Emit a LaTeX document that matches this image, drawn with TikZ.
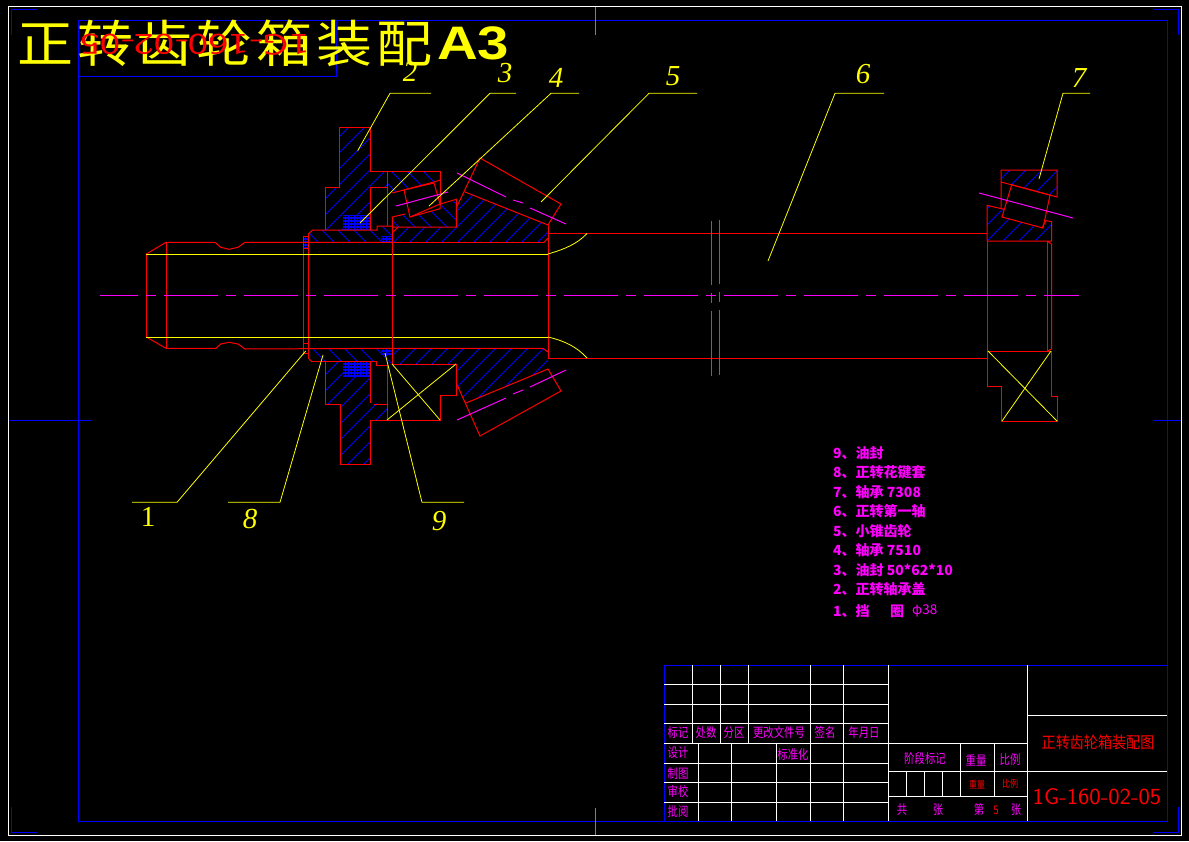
\documentclass[tikz,border=0pt]{standalone}
\usepackage{fontspec}
\setmainfont{Liberation Serif}
\newfontfamily\cjk{Noto Sans CJK SC}
\newfontfamily\cjktitle[LetterSpace=7]{Noto Sans CJK SC}
\newfontfamily\lsans{Liberation Sans}
\newfontfamily\lserif{Liberation Serif}
\definecolor{rd}{RGB}{255,0,0}
\definecolor{bl}{RGB}{0,0,255}
\definecolor{yl}{RGB}{255,255,0}
\definecolor{mg}{RGB}{255,0,255}
\tikzset{
  part/.style={draw=rd,line width=1pt},
  hatchline/.style={draw=bl,line width=1pt},
  leader/.style={draw=yl,line width=.8pt},
  cross/.style={draw=yl,line width=.8pt},
  axisline/.style={draw=mg,line width=1pt},
  frameblue/.style={draw=bl,line width=1pt},
  framewhite/.style={draw=white,line width=1pt},
  grid line/.style={draw=white,line width=.9pt},
  lab/.style={inner sep=0pt,text=mg,font=\cjk\fontsize{13}{13}\selectfont,xscale=.8},
  redlab/.style={inner sep=0pt,text=rd,font=\cjk\fontsize{10}{10}\selectfont,xscale=.8},
  listlab/.style={inner sep=0pt,anchor=west,text=mg,font=\cjk\bfseries\fontsize{14}{14}\selectfont},
  callout/.style={inner sep=0pt,text=yl,font=\lserif\itshape\fontsize{29}{29}\selectfont},
}
\newcommand{\hatchfw}[1]{\begin{scope}\clip #1;\foreach \k in {300,316,...,1700}{\draw[hatchline] (\k,0)--({\k-800},800);}\end{scope}}
\newcommand{\hatchbk}[1]{\begin{scope}\clip #1;\foreach \k in {-500,-484,...,700}{\draw[hatchline] (\k,0)--({\k+800},800);}\end{scope}}
\newcommand{\seal}[4]{\fill[bl] (#1,#2) rectangle (#3,#4);
  \begin{scope}\clip (#1,#2) rectangle (#3,#4);
  \foreach \q in {0,3,...,18}{\draw[black,line width=1pt,dash pattern=on 1.5pt off 1.5pt] (#1,{#2+\q+1})--(#3,{#2+\q+1});}
  \end{scope}}
\begin{document}
\begin{tikzpicture}[x=1pt,y=-1pt]
\path[use as bounding box,fill=black] (0,0) rectangle (1189,841);

% sheet frames
\draw[framewhite] (8.5,6.5) rectangle (1181,835);
\draw[frameblue] (78.5,20.5) rectangle (1167,821.5);
\draw[frameblue] (78.5,20.5) rectangle (336.5,76.5);
\draw[frameblue] (37,9.5)--(11,9.5)--(11,35);
\draw[frameblue] (37,832)--(11,832)--(11,807);
\draw[frameblue] (1153,9.5)--(1178,9.5)--(1178,35);
\draw[frameblue] (1153,832)--(1178,832)--(1178,807);
\draw[frameblue] (8.5,420.5)--(92,420.5);
\draw[frameblue] (1153,420.5)--(1181,420.5);
\draw[draw=gray,line width=.8pt] (595.5,6.5)--(595.5,35);
\draw[draw=gray,line width=.8pt] (595.5,808)--(595.5,835);

% heading
\node[inner sep=0pt,anchor=west,text=yl,font=\cjktitle\fontsize{56}{56}\selectfont,yscale=.9] (heading) at (17,43) {正转齿轮箱装配};
\node[inner sep=0pt,anchor=west,text=yl,font=\lsans\bfseries\fontsize{47}{47}\selectfont,xscale=1.2] (headingsize) at (437,43) {A3};
\node[inner sep=0pt,text=rd,font=\sffamily\fontsize{30}{30}\selectfont,rotate=180,xscale=1.44] (flipped) at (194.5,45) {1G-160-02-05};

% hatching
\hatchfw{(339,127)--(370,127)--(370,171)--(387,171)--(387,187)--(370,187)--(370,230)--(325,230)--(325,187)--(339,187)--cycle}
\hatchbk{(387,171)--(440,171)--(440,180)--(434,182)--(392,193)--(387,195)--cycle}
\hatchbk{(392,217)--(405,214)--(410,217)--(440,208.7)--(440,204)--(456,199.3)--(456,227)--(392,227)--cycle}
\hatchbk{(312.7,230)--(377,230)--(377,226)--(392,226)--(392,242)--(308,242)--(308,234)--cycle}
\hatchfw{(392,227)--(456,227)--(456,207)--(465,192)--(548,225)--(548,238)--(544,242)--(392,242)--cycle}
\hatchbk{(308,348)--(392,348)--(392,364)--(376,365)--(376,361)--(311,361)--(308,358)--cycle}
\hatchfw{(325,361)--(370,361)--(370,403)--(387,404)--(387,420)--(370,420)--(370,464)--(340,464)--(340,404)--(325,404)--cycle}
\hatchfw{(392,348)--(543,348)--(548,352)--(548,369)--(466,403)--(456,383)--(456,364)--(392,364)--cycle}
\hatchfw{(1001,170)--(1057,170)--(1057,197)--(1001,182)--cycle}
\hatchfw{(987,205.3)--(1004,209.3)--(1001.7,216.7)--(1041.7,228.3)--(1046,220.7)--(1051.7,221.7)--(1051.7,240.7)--(987.3,240.7)--cycle}

% seals
\seal{343}{215}{370}{230}
\seal{343}{361}{370}{377}
\seal{381}{236}{392}{242}
\seal{381}{348}{392}{356}
\seal{303}{236}{308}{248}

% input shaft
\draw[part] (146.3,254)--(166,242.3)--(215,242.3)--(220.7,247.3)--(229,249.3)--(238,247.3)--(245,242.3)--(392,242.3);
\draw[part] (146.3,337)--(166,348.3)--(216,348.3)--(220.7,344)--(229,342.3)--(238,344)--(245,349)--(392,348.3);
\draw[part] (146.3,254)--(146.3,337);
\draw[part] (166,242.3)--(166,348.3);
\draw[part] (303.3,236)--(303.3,355);
\draw[part] (308.3,234)--(308.3,358);
\draw[part] (303.3,236)--(308.3,236);
\draw[part] (303.3,343)--(308.3,343);
\draw[part] (303.3,353)--(308.3,353);
\draw[part] (303.3,248)--(308.3,248);
\draw[leader,line width=1pt] (146.3,254.3)--(548,254.3);
\draw[leader,line width=1pt] (146.3,337.3)--(548,337.3);

% upper cap, sleeve and bearing
\draw[part] (325,230)--(325,187)--(339,187)--(339,127.3)--(370.3,127.3)--(370.3,171)--(440.3,171)--(440.3,204);
\draw[part] (308.3,234)--(312.7,230)--(377,230)--(377,226)--(392.3,226);
\draw[part] (387,171)--(387,226);
\draw[part] (370.3,230)--(370.3,187)--(387,187);
\draw[part] (392.3,226)--(392.3,364);
\draw[part] (392.3,233)--(398,227);
\draw[part] (392.3,193)--(434,182)--(440.3,180);
\draw[part] (404,190)--(434,183)--(440,204)--(410,217)--cycle;
\draw[part] (392.3,217)--(405,214);
\draw[part] (392.3,217)--(392.3,227)--(456.3,227)--(456.3,199.3)--(440,204)--(440,208.7)--(410,217);
\draw[part] (456.3,199.3)--(456.3,207);
\draw[axisline] (396,206)--(448,192);

% upper bevel gear
\draw[part] (456.7,207)--(480,158)--(561,204)--(548,225)--(465,192);
\draw[part] (548,225)--(548,358);
\draw[part] (544,242.3)--(548,238);
\draw[part] (392,242.3)--(544,242.3);
\draw[axisline] (457,173)--(506,197);
\draw[axisline] (513,200)--(523,203);
\draw[axisline] (530,208)--(566,224);

% lower cap, sleeve, bearing and gear
\draw[part] (311,361)--(376,361)--(376,365)--(387,365)--(387,420);
\draw[part] (325,361)--(325,404)--(340,404)--(340,464)--(370.3,464)--(370.3,420)--(440,420)--(440,395)--(456.3,395)--(456.3,364)--(392.3,364);
\draw[part] (370.3,361)--(370.3,403);
\draw[part] (374,404)--(387,404);
\draw[part] (308.3,358)--(311,361);
\draw[part] (392,348.3)--(543,348.3)--(548,352);
\draw[part] (456.3,383)--(456.3,395);
\draw[part] (456.3,383)--(480,436)--(561,391)--(548,369)--(466,403);
\draw[cross] (392,364)--(440,420);
\draw[cross] (456,364)--(387,420);
\draw[axisline] (457,420)--(506,398);
\draw[axisline] (513,394)--(523,390);
\draw[axisline] (530,387)--(566,370);

% long shaft
\draw[part,line width=.8pt] (548,233.3)--(987,233.3);
\draw[part,line width=1.2pt] (548,358.3)--(987,358.3);
\draw[leader] (548,254)..controls (565,249) and (577,244)..(587,233.5);
\draw[leader] (548,337)..controls (565,341) and (577,347)..(587,358);
\foreach \a/\b in {221/285,293/303,311/376}{\draw[axisline] (711.5,\a)--(711.5,\b);}
\foreach \a/\b in {220/283.7,292/301.7,310/375}{\draw[axisline] (719,\a)--(719,\b);}

% right bearing
\draw[part] (1001,209)--(1001,170)--(1057,170)--(1057,197)--(1001,182);
\draw[part] (1011.7,184.7)--(1050,195)--(1043,228)--(1002,217)--cycle;
\draw[part] (987,241)--(987,205.3)--(1004,209.3);
\draw[part] (1041.7,228.3)--(1046,220.7)--(1051.7,221.7)--(1051.7,241)--(987,241);
\draw[part] (987,241)--(987,386)--(1001,386)--(1001,421)--(1057,421)--(1057,396)--(1051.7,396)--(1051.7,351)--(987,351);
\draw[part] (1047.3,241)--(1047.3,351);
\draw[part] (1047.3,241)--(1051.7,244.3)--(1051.7,349)--(1047.3,351);
\draw[axisline] (979,193)--(1073,218);
\draw[cross] (988,351)--(1057,421);
\draw[cross] (1051,351)--(1002,421);

% centre line
\draw[axisline,dash pattern=on 54pt off 8pt on 10pt off 8pt,dash phase=16pt] (100,295.3)--(1079,295.3);

% callouts
\node[callout] (c2) at (410,72) {2};
\node[callout] (c3) at (505,73) {3};
\node[callout] (c4) at (556,78) {4};
\node[callout] (c5) at (673,76) {5};
\node[callout] (c6) at (863,74) {6};
\node[callout] (c7) at (1079,78) {7};
\node[callout,font=\lserif\fontsize{29}{29}\selectfont] (c1) at (148,517) {1};
\node[callout] (c8) at (250,519) {8};
\node[callout] (c9) at (439,521) {9};
\draw[leader] (431,93.3)--(390,93.3)--(357.7,150.7);
\draw[leader] (516,93.3)--(490,93.3)--(360,223);
\draw[leader] (579,93.3)--(551,93.3)--(429,206);
\draw[leader] (697,93.3)--(649,93.3)--(541,202);
\draw[leader] (884,93.3)--(835,93.3)--(768,261);
\draw[leader] (1090,93.3)--(1063,93.3)--(1039,179);
\draw[leader] (132,502.3)--(177,502.3)--(305.7,351);
\draw[leader] (228,502.3)--(280,502.3)--(323,355);
\draw[leader] (464,502.3)--(422,502.3)--(385,353);

% parts list
\node[listlab] (p9) at (833,453) {9、油封};
\node[listlab] (p8) at (833,472) {8、正转花键套};
\node[listlab] (p7) at (833,492) {7、轴承 7308};
\node[listlab] (p6) at (833,511) {6、正转第一轴};
\node[listlab] (p5) at (833,531) {5、小锥齿轮};
\node[listlab] (p4) at (833,550) {4、轴承 7510};
\node[listlab] (p3) at (833,570) {3、油封 50*62*10};
\node[listlab] (p2) at (833,589) {2、正转轴承盖};
\node[listlab] (p1) at (833,611) {1、挡};
\node[listlab] (p1b) at (890,611) {圈};
\node[listlab,font=\cjk\fontsize{13.5}{13.5}\selectfont] (p1c) at (912,611) {φ38};

% title block
\draw[frameblue] (664.3,821.3)--(664.3,665.3)--(1167,665.3);
\foreach \y in {684.3,704.3,723.3,743.3}{\draw[grid line] (664.3,\y)--(888.3,\y);}
\foreach \y in {763.3,782.3,802.3}{\draw[grid line] (664.3,\y)--(888.3,\y);}
\foreach \x in {692.3,720.3,748.3}{\draw[grid line] (\x,665.3)--(\x,743.3);}
\foreach \x in {810.3,843.3,888.3}{\draw[grid line] (\x,665.3)--(\x,821.3);}
\foreach \x in {698.3,731.3,776.3}{\draw[grid line] (\x,743.3)--(\x,821.3);}
\draw[grid line] (1027.3,665.3)--(1027.3,821.3);
\draw[grid line] (1027.3,715.3)--(1167,715.3);
\draw[grid line] (888.3,771.3)--(1167,771.3);
\draw[grid line] (888.3,743.3)--(1027.3,743.3);
\draw[grid line] (888.3,796.3)--(1027.3,796.3);
\foreach \x in {960.3,994.3}{\draw[grid line] (\x,743.3)--(\x,796.3);}
\foreach \x in {906.7,924.7,942.7}{\draw[grid line] (\x,771.3)--(\x,796.3);}

\node[lab] (t1) at (678,733) {标记};
\node[lab] (t2) at (706,733) {处数};
\node[lab] (t3) at (734,733) {分区};
\node[lab] (t4) at (779,733) {更改文件号};
\node[lab] (t5) at (825,733) {签名};
\node[lab] (t6) at (864,733) {年月日};
\node[lab] (t7) at (678,753) {设计};
\node[lab] (t8) at (678,774) {制图};
\node[lab] (t9) at (678,792) {审校};
\node[lab] (t10) at (678,812) {批阅};
\node[lab] (t11) at (793,755) {标准化};
\node[lab] (t12) at (925,759) {阶段标记};
\node[lab] (t13) at (976,760) {重量};
\node[lab] (t14) at (1010,760) {比例};
\node[redlab] (t15) at (977,785) {重量};
\node[redlab] (t16) at (1010,784) {比例};
\node[lab] (t17) at (902,810) {共};
\node[lab] (t18) at (938,810) {张};
\node[lab] (t19) at (979,810) {第};
\node[redlab,font=\cjk\fontsize{12}{12}\selectfont] (t20) at (996,810) {5};
\node[lab] (t21) at (1016,810) {张};
\node[inner sep=0pt,text=rd,font=\cjk\fontsize{16}{16}\selectfont,xscale=.88] (t22) at (1098,742) {正转齿轮箱装配图};
\node[inner sep=0pt,text=rd,font=\sffamily\fontsize{23}{23}\selectfont,xscale=1.05] (t23) at (1097,797) {1G-160-02-05};
\end{tikzpicture}
\end{document}
